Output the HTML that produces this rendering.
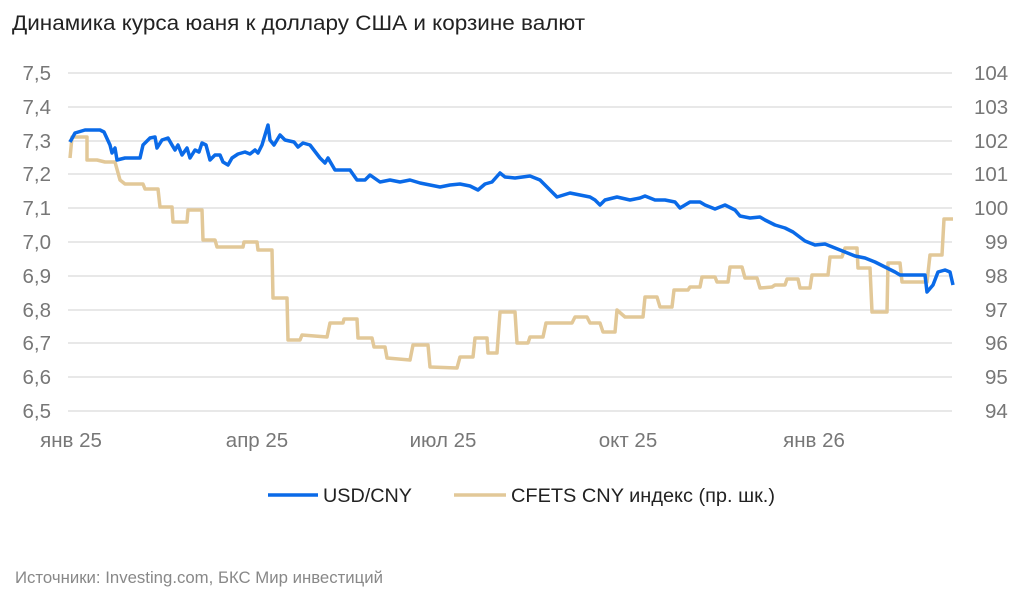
<!DOCTYPE html>
<html><head><meta charset="utf-8"><style>
body{margin:0;background:#fff;width:1024px;height:602px;overflow:hidden}
svg{display:block}
text{font-family:"Liberation Sans",sans-serif}
</style></head><body>
<svg width="1024" height="602" viewBox="0 0 1024 602">
<text x="12" y="30" font-size="21.5" fill="#222" textLength="573" lengthAdjust="spacingAndGlyphs">Динамика курса юаня к доллару США и корзине валют</text>
<g stroke="#d9d9d9" stroke-width="1.3">
<line x1="68" x2="952" y1="73" y2="73"/><line x1="68" x2="952" y1="107" y2="107"/><line x1="68" x2="952" y1="141" y2="141"/><line x1="68" x2="952" y1="174" y2="174"/><line x1="68" x2="952" y1="208" y2="208"/><line x1="68" x2="952" y1="242" y2="242"/><line x1="68" x2="952" y1="276" y2="276"/><line x1="68" x2="952" y1="310" y2="310"/><line x1="68" x2="952" y1="343" y2="343"/><line x1="68" x2="952" y1="377" y2="377"/><line x1="68" x2="952" y1="411" y2="411"/>
</g>
<g font-size="20.5" fill="#777" text-anchor="end">
<text x="51" y="80">7,5</text><text x="51" y="114">7,4</text><text x="51" y="148">7,3</text><text x="51" y="181">7,2</text><text x="51" y="215">7,1</text><text x="51" y="249">7,0</text><text x="51" y="283">6,9</text><text x="51" y="317">6,8</text><text x="51" y="350">6,7</text><text x="51" y="384">6,6</text><text x="51" y="418">6,5</text>
</g>
<g font-size="20.5" fill="#777">
<text x="974" y="80">104</text><text x="974" y="114">103</text><text x="974" y="148">102</text><text x="974" y="181">101</text><text x="974" y="215">100</text><text x="985" y="249">99</text><text x="985" y="283">98</text><text x="985" y="317">97</text><text x="985" y="350">96</text><text x="985" y="384">95</text><text x="985" y="418">94</text>
</g>
<g font-size="20.5" fill="#777" text-anchor="middle">
<text x="71" y="447">янв 25</text><text x="257" y="447">апр 25</text><text x="443" y="447">июл 25</text><text x="628" y="447">окт 25</text><text x="814" y="447">янв 26</text>
</g>
<polyline fill="none" stroke="#e2c898" stroke-width="3.5" stroke-linejoin="round" points="70,158 72,137 87,137 87,160 97,160 105,162 115,162 120,180 125,184 143,184 145,189 158,189 160,207 172,207 173,222 187,222 188,210 202,210 203,240 215,240 217,247 243,247 244,242 257,242 258,250 272,250 273,298 287,298 288,340 300,340 302,335 327,337 330,323 343,323 344,319 357,319 358,338 372,338 374,347 385,347 387,358 410,360 413,345 428,345 430,367 457,368 460,357 473,357 475,338 487,338 488,353 497,353 500,312 515,312 517,343 528,343 530,337 543,337 546,323 572,323 575,317 587,317 590,323 600,323 603,332 615,332 617,310 625,317 643,317 645,297 657,297 660,307 672,307 674,290 688,290 690,287 700,287 702,277 715,277 717,282 728,282 730,267 742,267 745,278 757,278 760,288 772,287 775,285 785,285 787,279 798,279 800,288 810,288 812,275 828,275 830,257 842,257 845,248 857,248 858,268 870,268 872,312 887,312 888,263 900,263 902,282 927,282 930,255 942,255 944,219 953,219"/>
<polyline fill="none" stroke="#0a6ae8" stroke-width="3.5" stroke-linejoin="round" points="70,142 75,133 85,130 100,130 104,132 110,145 112,153 115,148 117,160 125,158 140,158 143,145 150,138 155,137 157,148 162,140 168,138 172,145 175,150 178,145 182,155 187,148 190,158 195,150 199,152 202,143 206,145 210,160 215,155 220,155 223,162 228,165 232,158 238,154 245,152 250,154 255,150 258,153 262,145 268,125 270,140 274,145 280,135 285,140 294,142 298,147 303,143 310,145 320,158 325,163 328,158 335,170 343,170 350,170 357,180 365,180 370,175 380,182 390,180 400,182 410,180 420,183 430,185 440,187 450,185 460,184 470,186 478,190 485,184 492,182 500,173 505,177 515,178 530,176 540,180 550,190 557,197 570,193 580,195 590,197 595,200 600,205 605,200 617,197 630,200 640,198 645,196 655,200 665,200 675,202 680,208 690,202 700,202 705,205 715,209 725,205 735,210 740,216 750,218 760,217 765,220 775,225 785,228 793,232 805,241 815,245 825,244 835,248 845,252 855,256 865,258 875,262 885,267 895,272 900,275 910,275 925,275 927,292 933,285 938,272 945,270 950,272 953,285"/>
<line x1="268" y1="495" x2="318" y2="495" stroke="#0a6ae8" stroke-width="3.5"/>
<text x="323" y="502" font-size="19.5" fill="#222" textLength="89" lengthAdjust="spacingAndGlyphs">USD/CNY</text>
<line x1="454" y1="495" x2="506" y2="495" stroke="#e2c898" stroke-width="3.5"/>
<text x="511" y="502" font-size="19.5" fill="#222" textLength="264" lengthAdjust="spacingAndGlyphs">CFETS CNY индекс (пр. шк.)</text>
<text x="15" y="583" font-size="16.5" fill="#888" textLength="368" lengthAdjust="spacingAndGlyphs">Источники: Investing.com, БКС Мир инвестиций</text>
</svg>
</body></html>
